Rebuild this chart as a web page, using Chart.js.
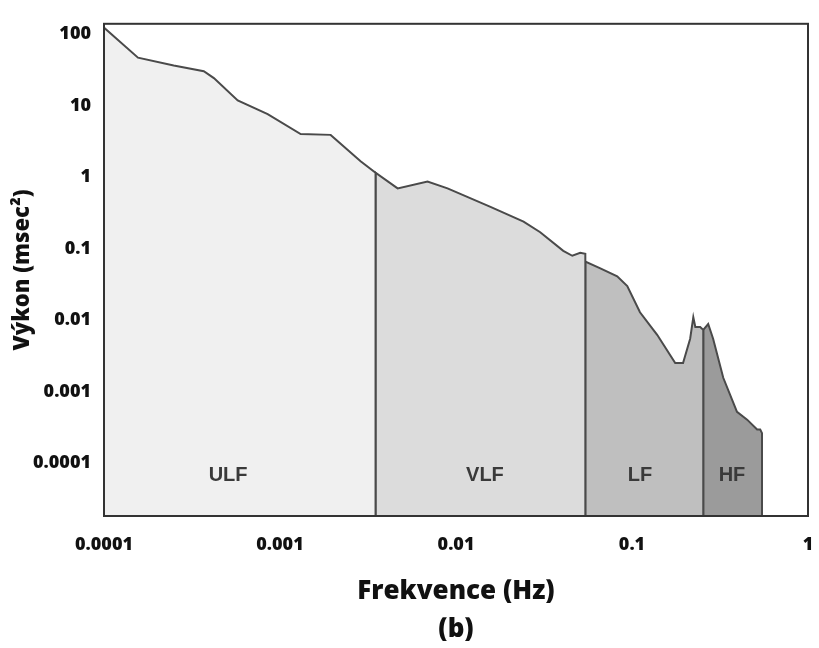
<!DOCTYPE html>
<html>
<head>
<meta charset="utf-8">
<script src="https://cdn.jsdelivr.net/npm/chart.js@4/dist/chart.umd.min.js"></script>
<style>
    html, body { margin: 0; padding: 0; background: #fff; }
    #wrap { width: 819px; height: 648px; }
</style>
</head>
<body>
<div id="wrap"><canvas id="graph" width="819" height="648"></canvas></div>
<script>
// axis ranges and ticks
const xMin = 0.0001;
const xMax = 1;
const yMin = 0.000018;
const yMax = 140;
const xTicks = [0.0001, 0.001, 0.01, 0.1, 1];
const xTickLabels = ['0.0001', '0.001', '0.01', '0.1', '1'];
const yTicks = [100, 10, 1, 0.1, 0.01, 0.001, 0.0001];
const yTickLabels = ['100', '10', '1', '0.1', '0.01', '0.001', '0.0001'];

// spectrum, one piece per band (frequency in Hz, power in msec2)
const ulfFreq = [0.0001, 0.0001, 0.000156, 0.000249, 0.000369, 0.000421, 0.000575, 0.000851, 0.00131, 0.00194, 0.00287, 0.00349, 0.00349];
const ulfPower = [yMin, 124, 47, 36.5, 30.3, 24.3, 11.8, 7.6, 4.0, 3.9, 1.67, 1.15, yMin];
const vlfFreq = [0.00349, 0.00349, 0.00466, 0.00689, 0.00895, 0.0157, 0.0242, 0.0301, 0.0407, 0.0458, 0.0508, 0.0543, 0.0543];
const vlfPower = [yMin, 1.15, 0.695, 0.865, 0.695, 0.382, 0.238, 0.169, 0.0927, 0.0792, 0.0871, 0.0843, yMin];
const lfFreq = [0.0543, 0.0543, 0.0661, 0.0824, 0.094, 0.111, 0.139, 0.176, 0.195, 0.214, 0.223, 0.229, 0.244, 0.254, 0.254];
const lfPower = [yMin, 0.0656, 0.0526, 0.0409, 0.0299, 0.0128, 0.0062, 0.00249, 0.00249, 0.00547, 0.0109, 0.00798, 0.00798, 0.00726, yMin];
const hfFreq = [0.254, 0.254, 0.271, 0.289, 0.33, 0.395, 0.451, 0.514, 0.535, 0.548, 0.548];
const hfPower = [yMin, 0.00726, 0.00877, 0.00547, 0.00155, 0.000516, 0.000402, 0.000293, 0.000293, 0.00026, yMin];

// band names and where their labels sit
const bandNames = ['ULF', 'VLF', 'LF', 'HF'];
const bandLabelFreq = [0.000507, 0.0146, 0.111, 0.37];
const bandLabelPower = 0.000066;
const bandColors = ['#f0f0f0', '#dcdcdc', '#bfbfbf', '#9b9b9b'];

function toPoints(xs, ys){
    var pts = [];
    for(var k = 0; k < xs.length; k++){
        pts.push({x: xs[k], y: ys[k]});
    }
    return pts;
}

const bands = [
    toPoints(ulfFreq, ulfPower),
    toPoints(vlfFreq, vlfPower),
    toPoints(lfFreq, lfPower),
    toPoints(hfFreq, hfPower)
];

// frame round the plot + band names
const framePlugin = {
    id: 'frame',
    afterDatasetsDraw: function(chart){
        const ctx = chart.ctx;
        const a = chart.chartArea;
        const xs = chart.scales.x;
        const ys = chart.scales.y;
        ctx.save();
        ctx.font = 'bold 20px "Liberation Sans", Arial, sans-serif';
        ctx.fillStyle = '#3a3a3a';
        ctx.textAlign = 'center';
        ctx.textBaseline = 'middle';
        for(var k = 0; k < bandNames.length; k++){
            ctx.fillText(bandNames[k], xs.getPixelForValue(bandLabelFreq[k]), ys.getPixelForValue(bandLabelPower));
        }
        ctx.strokeStyle = '#333';
        ctx.lineWidth = 2;
        ctx.strokeRect(a.left, a.top, a.right - a.left, a.bottom - a.top);
        ctx.restore();
    }
};

const ctx = document.getElementById('graph').getContext('2d');
const graph = new Chart(ctx, {
    type: 'line',
    data: {
        datasets: bands.map(function(pts, i){
            return {
                label: bandNames[i],
                data: pts,
                fill: 'start',
                backgroundColor: bandColors[i],
                borderColor: '#4a4a4a',
                borderWidth: 2,
                pointRadius: 0,
                tension: 0
            };
        })
    },
    options: {
        responsive: false,
        animation: false,
        layout: { padding: { top: 15, right: 11, left: 0, bottom: 0 } },
        plugins: {
            legend: { display: false },
            tooltip: { enabled: false }
        },
        scales: {
            x: {
                type: 'logarithmic',
                min: xMin,
                max: xMax,
                grid: { display: false, drawTicks: false },
                border: { display: false },
                afterBuildTicks: function(axis){
                    axis.ticks = xTicks.map(function(v){ return {value: v}; });
                },
                afterFit: function(axis){
                    axis.height = 132;
                    axis.paddingLeft = 0;
                    axis.paddingRight = 0;
                },
                ticks: {
                    padding: 18,
                    color: '#111',
                    font: { family: '"Open Sans"', size: 18, weight: 800 },
                    maxRotation: 0,
                    callback: function(v, i){ return xTickLabels[i]; }
                },
                title: {
                    display: true,
                    text: ['Frekvence (Hz)', '(b)'],
                    color: '#111',
                    font: { family: '"Open Sans"', size: 26, weight: 800, lineHeight: 1.45 },
                    padding: { top: 0, bottom: 0 }
                }
            },
            y: {
                type: 'logarithmic',
                min: yMin,
                max: yMax,
                grid: { display: false, drawTicks: false },
                border: { display: false },
                afterBuildTicks: function(axis){
                    axis.ticks = yTicks.map(function(v){ return {value: v}; });
                },
                afterFit: function(axis){ axis.width = 104; },
                ticks: {
                    padding: 13,
                    color: '#111',
                    font: { family: '"Open Sans"', size: 18, weight: 800 },
                    callback: function(v, i){ return yTickLabels[i]; }
                },
                title: {
                    display: true,
                    text: 'Výkon (msec²)',
                    color: '#111',
                    font: { family: '"Open Sans"', size: 22, weight: 800 },
                    padding: { top: 10, bottom: 0 }
                }
            }
        }
    },
    plugins: [framePlugin]
});
</script>
</body>
</html>
